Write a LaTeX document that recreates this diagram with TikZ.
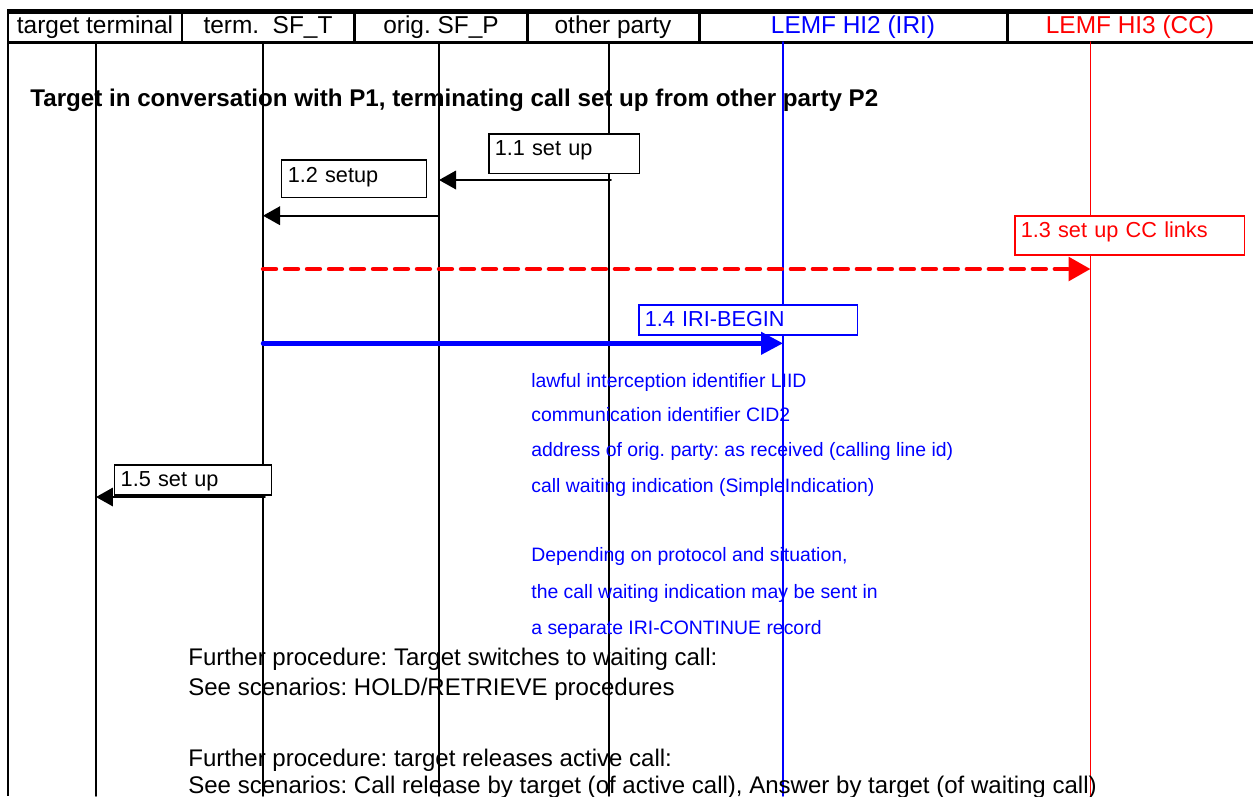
\documentclass[tikz,border=0pt]{standalone}
\usepackage{fontspec}
\setmainfont{Liberation Sans}
\usepackage{tkz-euclide}
\usetikzlibrary{arrows.meta}
\newcommand\hdrfont{\fontsize{13.9pt}{16pt}\selectfont}
\newcommand\notefont{\fontsize{13.68pt}{16pt}\selectfont}
\newcommand\msgfont{\fontsize{12.35pt}{14pt}\selectfont}
\newcommand\irifont{\fontsize{11.05pt}{13pt}\selectfont}
\tikzset{
  lifeline/.style={line width=0.85pt},
  hdrline/.style={line width=1.7pt},
  hdr/.style={anchor=base, inner sep=0pt, font=\hdrfont},
  note/.style={anchor=base west, inner sep=0pt, font=\notefont},
  iritext/.style={blue, anchor=base west, inner sep=0pt, font=\irifont},
  msgbox/.style={draw, fill=white, line width=0.85pt, anchor=north west,
    inner xsep=0.12cm, inner ysep=0pt, align=left, font=\msgfont},
  msgarrow/.style={line width=1.1pt, -{Triangle[length=0.34cm,width=0.37cm]}},
  ccarrow/.style={red, line width=2.5pt, dash pattern=on 0.26cm off 0.18cm,
    -{Triangle[length=0.44cm,width=0.47cm]}},
  iriarrow/.style={blue, line width=2.5pt, -{Triangle[length=0.44cm,width=0.44cm]}},
}
\frenchspacing

\begin{document}
\begin{tikzpicture}[x=0.02cm,y=-0.02cm]
\useasboundingbox (0,0) rectangle (1253,796);
% header row
\draw[hdrline,line width=2.3pt] (7,11.5) -- (1253,11.5);
\draw[hdrline] (7,42) -- (1253,42);
\foreach \xx in {8,182,354.5,527,699,1007}
  \draw[hdrline] (\xx,11.5) -- (\xx,42);
\draw[lifeline] (8,42) -- (8,796);
\node[hdr] (hTT) at (95,33.3) {target terminal};
\node[hdr] (hSFT) at (268,33.3) {term.\ \ SF\_T};
\node[hdr] (hSFP) at (441,33.3) {orig. SF\_P};
\node[hdr] (hOP) at (613,33.3) {other party};
\node[hdr,blue] (hHI2) at (853,33.3) {LEMF HI2 (IRI)};
\node[hdr,red] (hHI3) at (1130,33.3) {LEMF HI3 (CC)};
% lifelines
\tkzDefPoints{96/42/Ta, 96/796/Tb, 263/42/Sa, 263/796/Sb, 439/42/Pa, 439/796/Pb,
  609/42/Oa, 609/796/Ob, 783/42/Ia, 783/796/Ib, 1090.5/42/Ca, 1090.5/796/Cb}
\tkzDrawSegments[lifeline](Ta,Tb Sa,Sb Pa,Pb Oa,Ob)
\tkzDrawSegment[lifeline,blue](Ia,Ib)
\tkzDrawSegment[lifeline,red](Ca,Cb)
\node[note,font=\fontsize{13.75pt}{16pt}\selectfont\bfseries] (title) at (30,106)
  {Target in conversation with P1, terminating call set up from other party P2};
% messages
\node[msgbox,text width=2.78cm,text height=0.44cm,text depth=0.36cm] (m11) at (488,133) {1.1 set up};
\node[msgbox,text width=2.66cm,text height=0.454cm,text depth=0.306cm] (m12) at (281,159) {1.2 setup};
\node[msgbox,draw=red,text=red,text width=4.36cm,text height=0.434cm,text depth=0.352cm] (m13) at (1014,215) {1.3 set up CC links};
\node[msgbox,draw=blue,text=blue,text width=4.14cm,text height=0.44cm,text depth=0.16cm] (m14) at (638,304) {1.4 IRI-BEGIN};
\node[msgbox,text width=2.90cm,text height=0.434cm,text depth=0.166cm] (m15) at (114,464) {1.5 set up};
\tkzDefPoints{611/180/A1, 439/180/B1, 439/215.7/A2, 263/215.7/B2, 263/269/A3, 1090.5/269/B3,
  263/343.3/A4, 783/343.3/B4, 265/497/A5, 96/497/B5}
\tkzDrawSegment[msgarrow](A1,B1)
\tkzDrawSegment[msgarrow](A2,B2)
\tkzDrawSegment[ccarrow](A3,B3)
\tkzDrawSegment[iriarrow](A4,B4)
\tkzDrawSegment[msgarrow](A5,B5)
% IRI-BEGIN parameters
\node[iritext] (p1) at (531,387) {lawful interception identifier LIID};
\node[iritext] (p2) at (531,421.8) {communication identifier CID2};
\node[iritext] (p3) at (531,456.6) {address of orig. party: as received (calling line id)};
\node[iritext] (p4) at (531,492.5) {call waiting indication (SimpleIndication)};
\node[iritext] (p5) at (531,561) {Depending on protocol and situation,};
\node[iritext] (p6) at (531,598) {the call waiting indication may be sent in};
\node[iritext] (p7) at (531,634) {a separate IRI-CONTINUE record};
% further procedure
\node[note] (n1) at (188,665) {Further procedure: Target switches to waiting call:};
\node[note] (n2) at (188,695.5) {See scenarios: HOLD/RETRIEVE procedures};
\node[note] (n3) at (188,766.5) {Further procedure: target releases active call:};
\node[note] (n4) at (188,793.5) {See scenarios: Call release by target (of active call), Answer by target (of waiting call)};
\end{tikzpicture}
\end{document}
